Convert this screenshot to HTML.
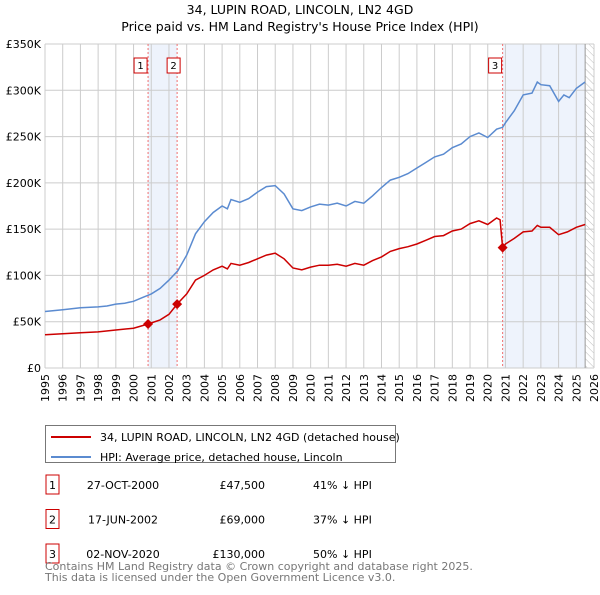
<!DOCTYPE html>
<html><head><meta charset="utf-8"><style>
body{margin:0;background:#fff;font-family:"Liberation Sans","DejaVu Sans",sans-serif;}
svg text{font-family:"DejaVu Sans","Liberation Sans",sans-serif;}
</style></head><body>
<svg id="c" width="600" height="590" xmlns="http://www.w3.org/2000/svg">
<defs><pattern id="hatch" width="5" height="5" patternUnits="userSpaceOnUse" patternTransform="rotate(-45)"><line x1="0" y1="0" x2="0" y2="5" stroke="#bbb" stroke-width="1"/></pattern></defs>
<text x="300" y="14" text-anchor="middle" font-size="12.5" fill="#000">34, LUPIN ROAD, LINCOLN, LN2 4GD</text>
<text x="300" y="31" text-anchor="middle" font-size="12.5" fill="#000">Price paid vs. HM Land Registry's House Price Index (HPI)</text>
<g id="plot"></g>
<g>
<rect x="45.5" y="425.5" width="350" height="37" fill="#fff" stroke="#777"/>
<line x1="51" y1="437" x2="91" y2="437" stroke="#cc0000" stroke-width="2"/>
<text x="100" y="441" font-size="11">34, LUPIN ROAD, LINCOLN, LN2 4GD (detached house)</text>
<line x1="51" y1="457" x2="91" y2="457" stroke="#5b8bd0" stroke-width="2"/>
<text x="100" y="461" font-size="11">HPI: Average price, detached house, Lincoln</text>
</g>
<g id="table" font-size="11"></g>
<text x="45" y="570" font-size="11" fill="#777">Contains HM Land Registry data © Crown copyright and database right 2025.</text>
<text x="45" y="581" font-size="11" fill="#777">This data is licensed under the Open Government Licence v3.0.</text>
</svg>
<script>
const hpiYears=[1995,1995.5,1996,1996.5,1997,1998,1998.5,1999,1999.5,2000,2000.5,2001,2001.5,2002,2002.5,2003,2003.5,2004,2004.5,2005,2005.3,2005.5,2006,2006.5,2007,2007.5,2008,2008.5,2009,2009.5,2010,2010.5,2011,2011.5,2012,2012.5,2013,2013.5,2014,2014.5,2015,2015.5,2016,2016.5,2017,2017.5,2018,2018.5,2019,2019.5,2020,2020.5,2020.84,2021,2021.5,2022,2022.5,2022.8,2023,2023.5,2024,2024.3,2024.6,2025,2025.5];
const hpiValues=[61,62,63,64,65,66,67,69,70,72,76,80,86,95,105,122,145,158,168,175,172,182,179,183,190,196,197,188,172,170,174,177,176,178,175,180,178,186,195,203,206,210,216,222,228,231,238,242,250,254,249,258,260,265,278,295,297,309,306,305,288,295,292,302,309];
const ppYears=[1995,1996,1997,1998,1999,2000,2000.82,2001.5,2002,2002.46,2003,2003.5,2004,2004.5,2005,2005.3,2005.5,2006,2006.5,2007,2007.5,2008,2008.5,2009,2009.5,2010,2010.5,2011,2011.5,2012,2012.5,2013,2013.5,2014,2014.5,2015,2015.5,2016,2016.5,2017,2017.5,2018,2018.5,2019,2019.5,2020,2020.5,2020.7,2020.84,2021,2021.5,2022,2022.5,2022.8,2023,2023.5,2024,2024.5,2025,2025.5];
const ppValues=[36,37,38,39,41,43,47.5,52,58,69,80,95,100,106,110,107,113,111,114,118,122,124,118,108,106,109,111,111,112,110,113,111,116,120,126,129,131,134,138,142,143,148,150,156,159,155,162,160,130,134,140,147,148,154,152,152,144,147,152,155];
const saleYears=[2000.82,2002.46,2020.84];
const saleValues=[47.5,69,130];
const saleLabels=["1","2","3"];
const saleDates=["27-OCT-2000","17-JUN-2002","02-NOV-2020"];
const salePrices=["£47,500","£69,000","£130,000"];
const saleDiffs=["41% ↓ HPI","37% ↓ HPI","50% ↓ HPI"];
const yTicks=[0,50,100,150,200,250,300,350];
const yTickLabels=["£0","£50K","£100K","£150K","£200K","£250K","£300K","£350K"];
const xTicks=[];for(let y=1995;y<=2026;y++)xTicks.push(y);
const L=45,R=594,T=44,B=368,X0=1995,X1=2026,YMAX=350,DATA_END=2025.5;
const NS="http://www.w3.org/2000/svg";
const xs=v=>L+(v-X0)/(X1-X0)*(R-L);
const ys=v=>B-v/YMAX*(B-T);
const g=document.getElementById('plot');
function mk(tag,attrs,parent){const e=document.createElementNS(NS,tag);for(const k in attrs)e.setAttribute(k,attrs[k]);(parent||g).appendChild(e);return e;}
// shading
let s1=mk('rect',{x:xs(saleYears[0]),y:T,width:xs(saleYears[1])-xs(saleYears[0]),height:B-T,fill:'#eef3fc'});


let s2=mk('rect',{x:xs(saleYears[2]),y:T,width:xs(DATA_END)-xs(saleYears[2]),height:B-T,fill:'#eef3fc'});


let hz=mk('rect',{x:xs(DATA_END),y:T,width:R-xs(DATA_END),height:B-T,fill:'url(#hatch)'});


// grid
xTicks.forEach(t=>{
 const l=mk('line',{x1:xs(t),x2:xs(t),y1:T,y2:B,stroke:'#ccc','stroke-width':1});
 
 
 const tx=mk('text',{x:0,y:0,'font-size':11,'text-anchor':'end',transform:`translate(${xs(t)+4},${B+6}) rotate(-90)`});
 tx.textContent=t;
 
 
});
yTicks.forEach((t,i)=>{
 const l=mk('line',{x1:L,x2:R,y1:ys(t),y2:ys(t),stroke:'#ccc','stroke-width':1});
 
 
 const tx=mk('text',{x:L-4,y:ys(t)+4,'font-size':11,'text-anchor':'end'});
 tx.textContent=yTickLabels[i];
 
 
});
let dl=mk('line',{x1:xs(DATA_END),x2:xs(DATA_END),y1:T,y2:B,stroke:'#999','stroke-width':1});


// sale vlines
saleYears.forEach((yr,i)=>{
 const l=mk('line',{x1:xs(yr),x2:xs(yr),y1:T,y2:B,stroke:'#f07070','stroke-width':1,'stroke-dasharray':'2,2'});
 
 
 const bx=xs(yr)-(i<2?(i==0?4:-4):4);
 const r=mk('rect',{x:xs(yr)+(i==1?-10:-14),y:58,width:13,height:15,fill:'#fff',stroke:'#cc0000'});
 
 
 const t=mk('text',{x:xs(yr)+(i==1?-3.5:-7.5),y:69,'font-size':10,'text-anchor':'middle'});
 t.textContent=saleLabels[i];
 
 
});
// series
const path=(xa,va)=>xa.map((x,i)=>(i?'L':'M')+xs(x).toFixed(1)+','+ys(va[i]).toFixed(1)).join('');
let hp=mk('path',{d:path(hpiYears,hpiValues),fill:'none',stroke:'#5b8bd0','stroke-width':1.5});


let pp=mk('path',{d:path(ppYears,ppValues),fill:'none',stroke:'#cc0000','stroke-width':1.5});


saleYears.forEach((yr,i)=>{
 const cx=xs(yr),cy=ys(saleValues[i]);
 const d=mk('path',{d:`M${cx},${cy-5}L${cx+5},${cy}L${cx},${cy+5}L${cx-5},${cy}Z`,fill:'#cc0000'});
 
 
});
// table
const tb=document.getElementById('table');
saleLabels.forEach((lab,i)=>{
 const y=479+i*34.5;
 const r=mk('rect',{x:46,y:y-4,width:13,height:19,fill:'#fff',stroke:'#cc0000'},tb);
 
 
 const cells=[[52.5,'middle',lab,'table-marker-label'],[123,'middle',saleDates[i],'table-date'],[265,'end',salePrices[i],'table-price'],[313,'start',saleDiffs[i],'table-hpi-diff']];
 cells.forEach(c=>{
  const t=mk('text',{x:c[0],y:y+10,'text-anchor':c[1]},tb);
  t.textContent=c[2];
  
  
 });
});
</script>
</body></html>
